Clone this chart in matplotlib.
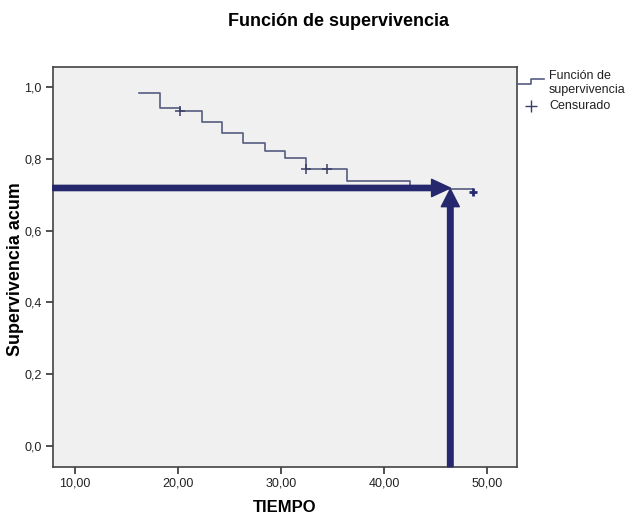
import matplotlib
matplotlib.use("Agg")
import matplotlib.pyplot as plt
from matplotlib.patches import FancyArrowPatch, ArrowStyle
from matplotlib.lines import Line2D

plt.rcParams['font.family'] = ['Liberation Sans', 'DejaVu Sans']

# Kaplan-Meier step data
step_times = [16.2, 18.2, 20.2, 22.3, 24.3, 26.3, 28.4, 30.4, 32.4, 36.4, 42.5, 48.6]
step_surv = [0.984, 0.943, 0.934, 0.904, 0.873, 0.843, 0.821, 0.802, 0.771, 0.738, 0.717, 0.717]
cens_times = [20.2, 32.4, 34.4]
cens_surv = [0.934, 0.771, 0.771]
last_cens_time = [48.6]
last_cens_surv = [0.709]
arrow_time = 46.4
arrow_surv = 0.719

xticks = [10, 20, 30, 40, 50]
xtick_labels = ["10,00", "20,00", "30,00", "40,00", "50,00"]
yticks = [0.0, 0.2, 0.4, 0.6, 0.8, 1.0]
ytick_labels = ["0,0", "0,2", "0,4", "0,6", "0,8", "1,0"]

line_color = "#565c80"
arrow_color = "#26286e"

fig = plt.figure(figsize=(6.38, 5.27), dpi=100)
fig.patch.set_facecolor("white")
ax = fig.add_axes([0.0826, 0.1144, 0.7273, 0.759])
ax.set_facecolor("#f0f0f0")

xlim = (7.84, 52.84)
ylim = (-0.058, 1.057)
ax.set_xlim(*xlim)
ax.set_ylim(*ylim)

ax.plot(step_times, step_surv, drawstyle="steps-post", color=line_color, lw=1.2, zorder=3)
ax.plot(cens_times, cens_surv, linestyle="none", marker="+", ms=7, mew=1.1,
        color="#3a3f66", zorder=4)
ax.plot(last_cens_time, last_cens_surv, linestyle="none", marker="+", ms=6, mew=2.0,
        color=arrow_color, zorder=4)

# Arrows
h_arrow = FancyArrowPatch((xlim[0], arrow_surv), (arrow_time, arrow_surv),
                          arrowstyle=ArrowStyle.Simple(head_length=13.5, head_width=12.5, tail_width=3.8),
                          mutation_scale=1, shrinkA=0, shrinkB=0, color=arrow_color,
                          zorder=5, clip_on=False)
v_arrow = FancyArrowPatch((arrow_time, ylim[0]), (arrow_time, arrow_surv - 0.003),
                          arrowstyle=ArrowStyle.Simple(head_length=12.7, head_width=13, tail_width=4.0),
                          mutation_scale=1, shrinkA=0, shrinkB=0, color=arrow_color,
                          zorder=5, clip_on=False)
ax.add_patch(h_arrow)
ax.add_patch(v_arrow)

ax.set_xticks(xticks)
ax.set_xticklabels(xtick_labels)
ax.set_yticks(yticks)
ax.set_yticklabels(ytick_labels)
ax.tick_params(axis="both", direction="out", length=5, width=1.2, color="#333333",
               labelsize=9, labelcolor="#222222", pad=3)
for s in ax.spines.values():
    s.set_color("#444444")
    s.set_linewidth(1.2)

W, H = 638.0, 527.0
def fx(px):
    return px / W
def fy(py):
    return 1 - py / H

fig.text(fx(285), fy(507), "TIEMPO", ha="center", va="center",
         fontsize=12, fontweight="bold")
fig.text(fx(16), fy(269), "Supervivencia acum", ha="center", va="center",
         rotation=90, fontsize=12.9, fontweight="bold")
fig.text(fx(338.5), fy(21.5), "Función de supervivencia", ha="center", va="center",
         fontsize=13, fontweight="bold")

# Legend (drawn manually, SPSS style)
fig.add_artist(Line2D([fx(516.7), fx(531), fx(531), fx(543.7)],
                      [fy(84), fy(84), fy(79), fy(79)],
                      color=line_color, lw=1.2, transform=fig.transFigure))
fig.add_artist(Line2D([fx(531)], [fy(106)], marker="+", ms=9, mew=1.0,
                      color="#3a3f66", linestyle="none", transform=fig.transFigure))
fig.text(fx(549), fy(76), "Función de", fontsize=9, va="center", ha="left", color="#222222")
fig.text(fx(549), fy(90), "supervivencia", fontsize=9, va="center", ha="left", color="#222222")
fig.text(fx(549), fy(106), "Censurado", fontsize=9, va="center", ha="left", color="#222222")

fig.savefig("out.png", dpi=100, facecolor="white")
